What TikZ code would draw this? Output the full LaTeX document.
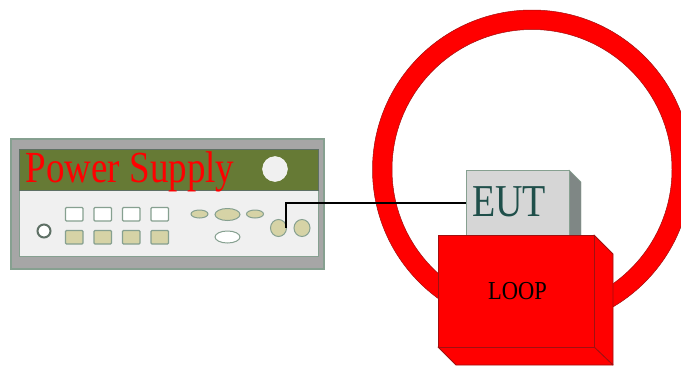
\documentclass[tikz,border=0pt]{standalone}
\usepackage{fontspec}
\usetikzlibrary{shapes.geometric}
\setmainfont{Liberation Serif}
\definecolor{edgeg}{HTML}{86A090}
\definecolor{olive}{HTML}{667A35}
\definecolor{khaki}{HTML}{D6D3A6}
\definecolor{panel}{HTML}{F0F0F0}
\definecolor{casing}{HTML}{A6A6A6}
\definecolor{darkr}{HTML}{A01010}
\definecolor{eutside}{HTML}{7F8785}
\definecolor{euttext}{HTML}{1F4F4A}
\tikzset{
 btnw/.style={draw=edgeg,line width=1.2pt,fill=white,rounded corners=1pt},
 btnk/.style={draw=edgeg,line width=1.2pt,fill=khaki,rounded corners=1pt},
 ovk/.style={draw=edgeg,line width=1pt,fill=khaki},
 rd/.style={draw=darkr,line width=0.8pt,fill=red,line join=round},
 lbl/.style={inner sep=0pt,anchor=center}
}
\begin{document}
\begin{tikzpicture}[x=1pt,y=-1pt]
\useasboundingbox (0,0) rectangle (681,367);
% ring
\begin{scope}
\clip (0,0) rectangle (681,367);
\fill[red,draw=darkr,line width=0.5pt,even odd rule] (532,169.5) circle (159.5) (532,169.5) circle (140);
\end{scope}
% power supply
\draw[draw=edgeg,fill=casing,line width=1.2pt] (11,139) rectangle (324,269);
\draw[draw=edgeg,fill=panel,line width=1pt] (19.5,149.5) rectangle (318.5,256);
\draw[draw=edgeg!70!black,fill=olive,line width=0.8pt] (19.5,149.5) rectangle (318.5,190);
\node[lbl,text=red,font=\fontsize{37}{37}\selectfont] (ps) at (130,172) {\scalebox{1}[1.2]{Power Supply}};
\fill[panel,draw=white] (275,169) circle (12.5);
\draw[draw=edgeg!70!black,line width=2pt,fill=white] (44,231) circle (6.5);
\foreach \n/\x in {a/65.5,b/94,c/122.5,d/151}{
 \draw[btnw] (\x,207.5) rectangle +(17.5,13.5);
 \draw[btnk] (\x,230.5) rectangle +(17.5,13.5);
}
\draw[ovk] (199.5,214) ellipse (8.5 and 4);
\draw[ovk] (227.5,214.5) ellipse (12.5 and 6);
\draw[ovk] (255,214) ellipse (8.5 and 4);
\draw[draw=edgeg,line width=1pt,fill=white] (227.5,237) ellipse (12.5 and 6);
\node[ovk,ellipse,minimum width=16pt,minimum height=17pt,inner sep=0pt] (knobl) at (278.5,228) {};
\draw[ovk] (302,228) ellipse (8 and 8.5);
% EUT
\fill[eutside,draw=edgeg] (569,170) -- (581,182) -- (581,240) -- (569,240) -- cycle;
\node[draw=edgeg,fill=black!16,line width=1pt,minimum width=103pt,minimum height=66pt,inner sep=0pt] (eut) at (517.5,203.5) {};
\node[lbl,text=euttext,font=\fontsize{38}{38}\selectfont] at (509,202) {\scalebox{1}[1.2]{EUT}};
% cable
\coordinate (plug) at (286,228);
\draw[black,line width=1.6pt] (plug) -- (286,203) -- (eut.west |- 0,203);
% loop box
\draw[rd] (594,235) -- (613,254) -- (613,365) -- (594,347) -- cycle;
\draw[rd] (438,347) -- (594,347) -- (613,365) -- (456,365) -- cycle;
\node[rd,minimum width=156pt,minimum height=112pt,inner sep=0pt] (loop) at (516,291) {};
\node[lbl,font=\fontsize{22.5}{22.5}\selectfont] at (517.5,291) {\scalebox{1}[1.15]{LOOP}};
\end{tikzpicture}
\end{document}
